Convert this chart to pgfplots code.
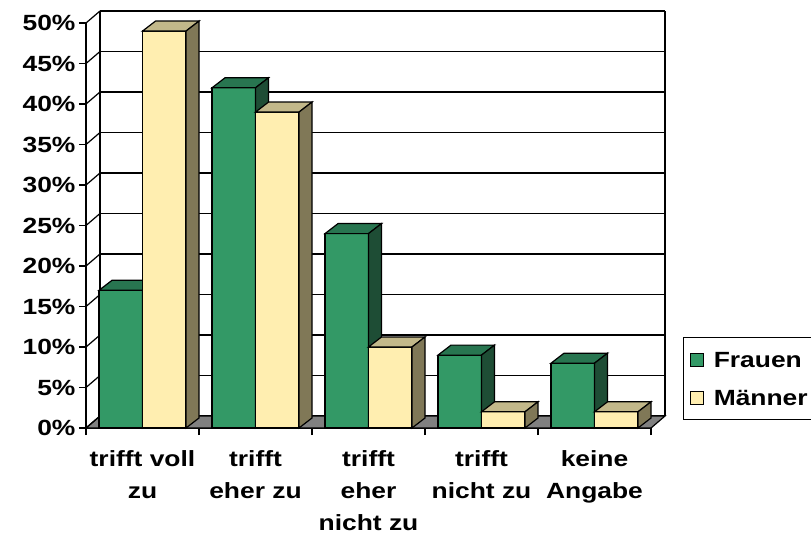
\documentclass[border=0pt]{standalone}
\usepackage{pgfplots}
\pgfplotsset{compat=1.18}
\usepackage{pgfplotstable}
\usepackage{fontspec}
\setmainfont{Liberation Sans}[FakeStretch=1.2]

\definecolor{fFront}{HTML}{339966}
\definecolor{fTop}{HTML}{287550}
\definecolor{fSide}{HTML}{1E4D35}
\definecolor{mFront}{HTML}{FFEEB0}
\definecolor{mTop}{HTML}{C2B88A}
\definecolor{mSide}{HTML}{807857}
\definecolor{floorgray}{HTML}{808080}

\pgfplotstableread{
x f m
0 17 49
1 42 39
2 24 10
3 9 2
4 8 2
}\datatable

% whole 3D bar (front, top, side); origin = top of front face at category centre
\newcommand\declbar[6]{%
\pgfdeclareplotmark{#1}{%
  \pgfsetlinewidth{1.2pt}\pgfsetstrokecolor{black}\pgfsetmiterjoin
  \pgfpathrectanglecorners{\pgfpoint{#2}{-\vh*8.1pt}}{\pgfpoint{#3}{0pt}}%
  \pgfsetfillcolor{#6}\pgfusepath{fill,stroke}%
  \pgfpathmoveto{\pgfpoint{#2}{0pt}}%
  \pgfpathlineto{\pgfpoint{#2+13pt}{10pt}}%
  \pgfpathlineto{\pgfpoint{#3+13pt}{10pt}}%
  \pgfpathlineto{\pgfpoint{#3}{0pt}}%
  \pgfpathclose
  \pgfsetfillcolor{#4}\pgfusepath{fill,stroke}%
  \pgfpathmoveto{\pgfpoint{#3}{0pt}}%
  \pgfpathlineto{\pgfpoint{#3+13pt}{10pt}}%
  \pgfpathlineto{\pgfpoint{#3+13pt}{10pt-\vh*8.1pt}}%
  \pgfpathlineto{\pgfpoint{#3}{-\vh*8.1pt}}%
  \pgfpathclose
  \pgfsetfillcolor{#5}\pgfusepath{fill,stroke}%
}}
\declbar{frauen3d}{-43.5pt}{0pt}{fTop}{fSide}{fFront}
\declbar{maenner3d}{0pt}{43.5pt}{mTop}{mSide}{mFront}

\pgfdeclareplotmark{walldiag}{%
  \pgfpathmoveto{\pgfpoint{0pt}{0pt}}%
  \pgfpathlineto{\pgfpoint{14pt}{12pt}}%
  \pgfusepathqstroke
}

\begin{document}
\begin{tikzpicture}
\useasboundingbox (0,0) rectangle (811pt,536pt);
\clip (0,0) rectangle (811pt,536pt);
\begin{axis}[
  at={(86pt,108pt)}, anchor=south west,
  x=113pt, y=8.1pt,
  xmin=-0.5, xmax=4.5, ymin=0, ymax=50,
  clip=false,
  axis lines=left,
  axis line style={-, line width=1.2pt, black},
  ytick={0,5,...,50},
  yticklabels={0\%,5\%,10\%,15\%,20\%,25\%,30\%,35\%,40\%,45\%,50\%},
  xtick={-0.5,0.5,...,4.5},
  xticklabels={},
  extra x ticks={0,1,2,3,4},
  extra x tick labels={{trifft voll\\zu},{trifft\\eher zu},{trifft\\eher\\nicht zu},{trifft\\nicht zu},{keine\\Angabe}},
  extra x tick style={major tick length=0pt, xticklabel style={align=center, yshift=-19pt}},
  tick align=outside,
  major tick length=7pt,
  tick style={black, line width=1.2pt},
  ymajorgrids,
  major grid style={black, line width=1.2pt, xshift=14pt, yshift=12pt},
  tick label style={font=\fontsize{22}{32}\selectfont\bfseries},
  legend cell align=left,
  legend style={at={(axis description cs:1.05664,0.22469)}, anchor=north west,
    draw=black, line width=1.2pt, inner xsep=6pt, inner ysep=13pt,
    row sep=20pt, column sep=9pt,
    font=\fontsize{22}{26}\selectfont\bfseries,
    nodes={inner sep=1pt, text height=16pt, text depth=0pt}},
]
% floor
\addplot[fill=floorgray, draw=black, line width=1.2pt, forget plot]
  coordinates {(-0.5,0) (4.5,0) (4.623894,1.481481) (-0.376106,1.481481)} -- cycle;
% back wall edges
\addplot[black, line width=1.2pt, xshift=14pt, yshift=12pt, forget plot]
  coordinates {(-0.5,0) (-0.5,50)};
\addplot[black, line width=1.2pt, xshift=14pt, yshift=12pt, forget plot]
  coordinates {(4.5,0) (4.5,50)};
% side wall diagonals
\addplot[only marks, mark=walldiag, black, line width=1.2pt, forget plot]
  coordinates {(-0.5,0) (-0.5,5) (-0.5,10) (-0.5,15) (-0.5,20) (-0.5,25) (-0.5,30) (-0.5,35) (-0.5,40) (-0.5,45) (-0.5,50)};
% Frauen
\addplot[ybar, bar width=43.5pt, bar shift=-21.75pt, fill=fFront, draw=black, line width=1.2pt,
  legend image code/.code={\draw[fill=fFront, draw=black, line width=1.2pt] (0pt,-6.5pt) rectangle (13pt,6.5pt);}]
  table[x=x, y=f] {\datatable};
\addlegendentry{\makebox[112pt][l]{Frauen}}
% Maenner
\addplot[ybar, bar width=43.5pt, bar shift=21.75pt, fill=mFront, draw=black, line width=1.2pt,
  legend image code/.code={\draw[fill=mFront, draw=black, line width=1.2pt] (0pt,-6.5pt) rectangle (13pt,6.5pt);}]
  table[x=x, y=m] {\datatable};
\addlegendentry{\makebox[112pt][l]{Männer}}
% 3D bars (drawn in order: Frauen then Maenner)
\addplot[only marks, mark=frauen3d, forget plot, visualization depends on={\thisrow{f} \as \vh}]
  table[x=x, y=f] {\datatable};
\addplot[only marks, mark=maenner3d, forget plot, visualization depends on={\thisrow{m} \as \vh}]
  table[x=x, y=m] {\datatable};
\end{axis}
\end{tikzpicture}
\end{document}
